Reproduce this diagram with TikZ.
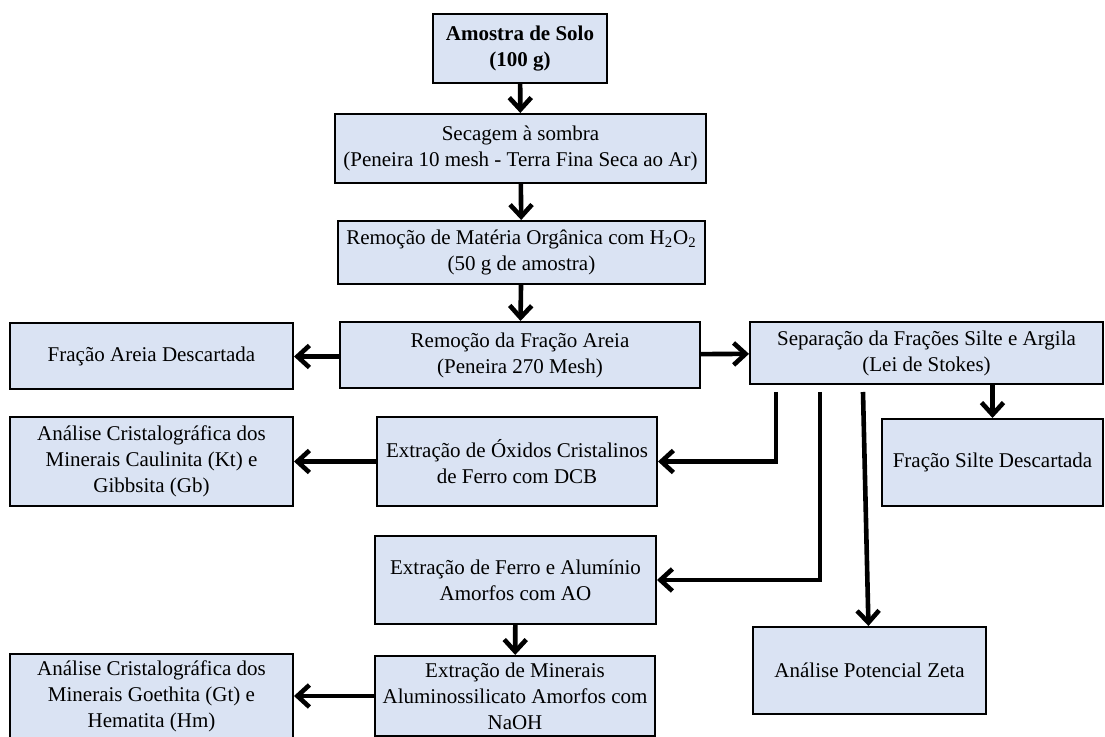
\documentclass[tikz,border=0pt]{standalone}
\usepackage{fontspec}
\setmainfont{Liberation Serif}
\usetikzlibrary{positioning,arrows.meta}
\definecolor{boxblue}{RGB}{218,227,243}

\begin{document}
\begin{tikzpicture}[x=0.5pt,y=-0.5pt]
\tikzset{module/.style={draw, shape=rectangle, fill=boxblue, line width=1pt, align=center,
        font=\fontsize{10.5}{13}\selectfont},
        flow/.style={line width=2.3pt, -{Straight Barb[length=6pt,width=11pt,line width=2.3pt]}}}
\useasboundingbox (0,0) rectangle (1105,737);
\node[module, minimum width=87pt, minimum height=34.5pt] (solo) at (520,48.5) {\textbf{Amostra de Solo}\\\textbf{(100 g)}};
\node[module, minimum width=185.5pt, minimum height=34.5pt] (secagem) at (520.5,148.5) {Secagem à sombra\\(Peneira 10 mesh - Terra Fina Seca ao Ar)};
\node[module, minimum width=183.5pt, minimum height=31.5pt] (materia) at (521.5,252.5) {Remoção de Matéria Orgânica com H\textsubscript{2}O\textsubscript{2}\\(50 g de amostra)};
\node[module, minimum width=180pt, minimum height=33pt] (areia) at (520,355) {Remoção da Fração Areia\\(Peneira 270 Mesh)};
\node[module, minimum width=141.5pt, minimum height=33pt] (descA) at (151.5,356.5) {Fração Areia Descartada};
\node[module, minimum width=176.5pt, minimum height=31pt] (separa) at (926.5,353) {Separação da Frações Silte e Argila\\(Lei de Stokes)};
\node[module, minimum width=140pt, minimum height=44.5pt] (oxidos) at (517,461.5) {Extração de Óxidos Cristalinos\\de Ferro com DCB};
\node[module, minimum width=141.5pt, minimum height=44.5pt] (caul) at (151.5,461.5) {Análise Cristalográfica dos\\Minerais Caulinita (Kt) e\\Gibbsita (Gb)};
\node[module, minimum width=110.5pt, minimum height=43.5pt] (descS) at (992.5,462.5) {Fração Silte Descartada};
\node[module, minimum width=140.5pt, minimum height=44pt] (ferro) at (515.5,580) {Extração de Ferro e Alumínio\\Amorfos com AO};
\node[module, minimum width=140pt, minimum height=40pt] (naoh) at (515,696) {Extração de Minerais\\Aluminossilicato Amorfos com\\NaOH};
\node[module, minimum width=141.5pt, minimum height=40pt] (goet) at (151.5,696) {Análise Cristalográfica dos\\Minerais Goethita (Gt) e\\Hematita (Hm)};
\node[module, minimum width=116.5pt, minimum height=43.5pt] (zeta) at (869.5,670.5) {Análise Potencial Zeta};
\coordinate (s1) at (776,392);
\coordinate (s2) at (820,392);
\coordinate (s3) at (863,392);
\draw[flow] (solo) -- (secagem);
\draw[flow] (secagem) -- (materia);
\draw[flow] (materia) -- (areia);
\draw[flow] (areia.west |- descA) -- (descA);
\draw[flow] (areia) -- (separa);
\draw[flow] (separa.south -| descS) -- (descS);
\draw[flow] (s1) |- (oxidos);
\draw[flow] (s2) |- (ferro);
\draw[flow] (s3) -- (zeta);
\draw[flow] (oxidos) -- (caul);
\draw[flow] (ferro) -- (naoh);
\draw[flow] (naoh) -- (goet);
\end{tikzpicture}
\end{document}
